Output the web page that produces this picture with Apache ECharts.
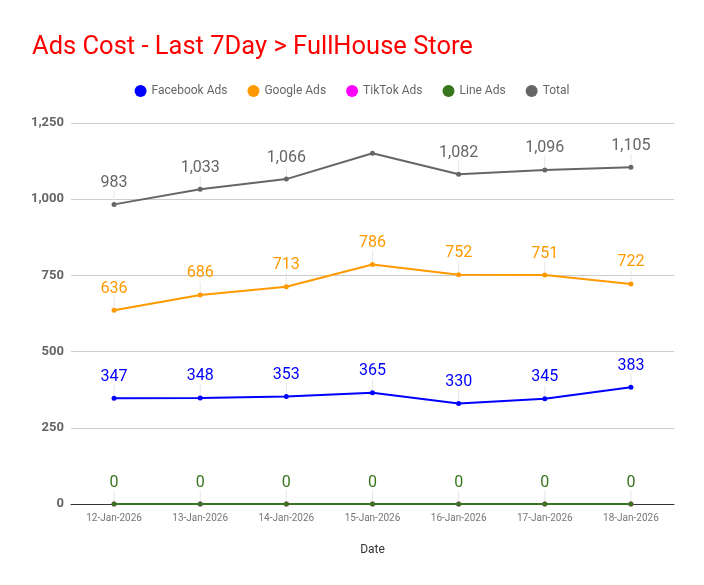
<!DOCTYPE html>
<html>
<head>
<meta charset="utf-8">
<script src="https://cdn.jsdelivr.net/npm/echarts@6/dist/echarts.min.js"></script>
<style>
  html, body { margin: 0; padding: 0; background: #fff; }
  #chart { width: 704px; height: 585px; }
</style>
</head>
<body>
<div id="chart"></div>
<script>
var dates = ['12-Jan-2026', '13-Jan-2026', '14-Jan-2026', '15-Jan-2026', '16-Jan-2026', '17-Jan-2026', '18-Jan-2026'];
var facebookAds = [347, 348, 353, 365, 330, 345, 383];
var googleAds = [636, 686, 713, 786, 752, 751, 722];
var tiktokAds = [0, 0, 0, 0, 0, 0, 0];
var lineAds = [0, 0, 0, 0, 0, 0, 0];
var total = [983, 1033, 1066, 1151, 1082, 1096, 1105];
// the 15-Jan total has no annotation in the original
var hiddenTotalLabels = [3];

var chart = echarts.init(document.getElementById('chart'));

function makeSeries(name, color, values, hidden, noLabels) {
  return {
    name: name,
    type: 'line',
    data: values.map(function (v, i) {
      if (hidden && hidden.indexOf(i) >= 0) {
        return { value: v, label: { show: false }, labelLine: { show: false } };
      }
      return v;
    }),
    symbol: 'circle',
    symbolSize: 5,
    showSymbol: true,
    itemStyle: { color: color },
    lineStyle: { color: color, width: 2 },
    label: {
      show: !noLabels,
      position: 'top',
      distance: 0,
      color: color,
      fontFamily: 'Roboto',
      fontSize: 16,
      formatter: function (p) { return p.value.toLocaleString('en-US'); }
    },
    labelLayout: { dy: -11 },
    labelLine: { show: !noLabels, lineStyle: { color: '#e6e6e6', width: 1 } },
    emphasis: { disabled: true },
    animation: false
  };
}

chart.setOption({
  title: {
    text: 'Ads Cost - Last 7Day > FullHouse Store',
    left: 27,
    top: 30,
    textStyle: { color: '#ff0000', fontFamily: 'Roboto', fontSize: 25.5, fontWeight: 'normal' }
  },
  legend: {
    top: 80,
    left: 'center',
    icon: 'circle',
    itemWidth: 12,
    itemHeight: 12,
    itemGap: 20,
    textStyle: { color: '#666', fontFamily: 'Roboto', fontSize: 12 },
    data: ['Facebook Ads', 'Google Ads', 'TikTok Ads', 'Line Ads', 'Total']
  },
  grid: { left: 71, right: 30, top: 123, bottom: 81, containLabel: false },
  xAxis: {
    type: 'category',
    data: dates,
    boundaryGap: true,
    name: 'Date',
    nameLocation: 'middle',
    nameGap: 40,
    nameTextStyle: { color: '#333', fontFamily: 'Roboto', fontSize: 12 },
    axisLine: { lineStyle: { color: '#333', width: 1 } },
    axisTick: { show: false },
    axisLabel: { color: '#777', fontFamily: 'Roboto', fontSize: 10, margin: 9, interval: 0 }
  },
  yAxis: {
    type: 'value',
    min: 0,
    max: 1250,
    interval: 250,
    axisLine: { show: false },
    axisTick: { show: false },
    splitLine: { lineStyle: { color: '#cccccc' } },
    axisLabel: {
      color: '#666',
      fontFamily: 'Roboto',
      fontSize: 13,
      fontWeight: 'bold',
      margin: 7,
      formatter: function (v) { return v.toLocaleString('en-US'); }
    }
  },
  series: [
    makeSeries('Facebook Ads', '#0000ff', facebookAds),
    makeSeries('Google Ads', '#ff9900', googleAds),
    // TikTok's zero labels sit fully under the Line Ads ones
    makeSeries('TikTok Ads', '#ff00ff', tiktokAds, null, true),
    makeSeries('Line Ads', '#38761d', lineAds),
    makeSeries('Total', '#666666', total, hiddenTotalLabels)
  ]
});
</script>
</body>
</html>
